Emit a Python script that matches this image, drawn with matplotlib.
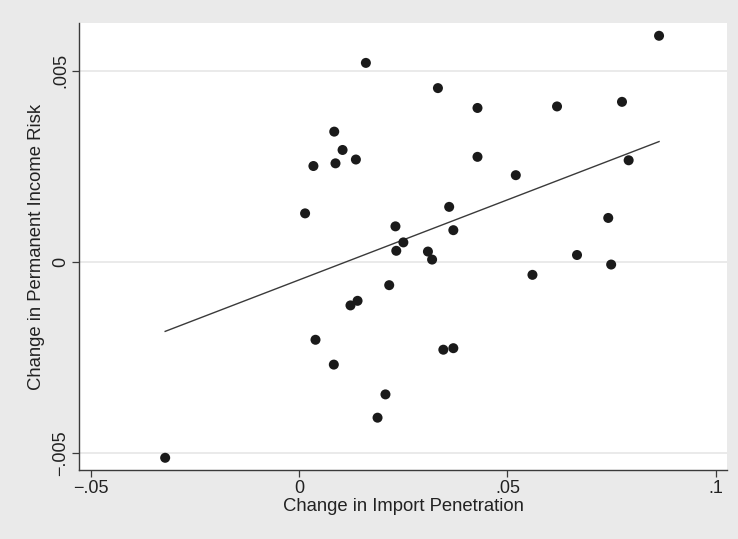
import matplotlib
matplotlib.use("Agg")
import matplotlib.pyplot as plt

# ---- data --------------------------------------------------------------- #
import_change = [0.0864, 0.0160, 0.0333, 0.0428, 0.0619, 0.0775, 0.0084,
                 0.0104, 0.0034, 0.0087, 0.0136, 0.0428, 0.0791, 0.0520,
                 0.0014, 0.0360, 0.0742, 0.0231, 0.0370, 0.0250, 0.0233,
                 0.0309, 0.0319, 0.0667, 0.0749, 0.0560, 0.0216, 0.0140,
                 0.0123, 0.0039, 0.0346, 0.0370, 0.0083, 0.0207, 0.0188,
                 -0.0322]
risk_change = [0.00592, 0.00521, 0.00455, 0.00403, 0.00407, 0.00419,
               0.00341, 0.00293, 0.00251, 0.00258, 0.00268, 0.00275,
               0.00266, 0.00227, 0.00127, 0.00144, 0.00115, 0.00093,
               0.00083, 0.00051, 0.00029, 0.00027, 0.00006, 0.00018,
               -0.00007, -0.00034, -0.00061, -0.00102, -0.00114, -0.00204,
               -0.00230, -0.00226, -0.00269, -0.00347, -0.00408, -0.00513]

fit_x = [-0.0322, 0.0864]
fit_y = [-0.00182, 0.00315]

x_ticks = [-0.05, 0, 0.05, 0.1]
x_labels = ["-.05", "0", ".05", ".1"]
y_ticks = [-0.005, 0, 0.005]
y_labels = ["-.005", "0", ".005"]

BG = "#EAEAEA"
INK = "#1A1A1A"

plt.rcParams.update({
    "font.family": "sans-serif",
    "font.sans-serif": ["Liberation Sans", "DejaVu Sans"],
    "font.size": 13,
})

fig = plt.figure(figsize=(7.38, 5.39), dpi=100, facecolor=BG)
ax = fig.add_axes([0.107, 0.128, 0.878, 0.829])
ax.set_facecolor("white")

for v in y_ticks:
    ax.axhline(v, color="#E6E6E6", lw=1.2, zorder=0)

ax.plot(fit_x, fit_y, color="#3A3A3A", lw=1.0, zorder=2)
ax.scatter(import_change, risk_change, s=52, color=INK, edgecolors="none",
           zorder=3)

ax.set_xlim(-0.0529, 0.1027)
ax.set_ylim(-0.00545, 0.00625)

ax.set_xticks(x_ticks)
ax.set_xticklabels([s.replace("-", "\u2212") for s in x_labels])
ax.set_yticks(y_ticks)
ax.set_yticklabels([s.replace("-", "\u2212") for s in y_labels],
                   rotation=90, va="center")

for side in ("top", "right"):
    ax.spines[side].set_visible(False)
for side in ("left", "bottom"):
    ax.spines[side].set_color("#3A3A3A")
    ax.spines[side].set_linewidth(1.0)
ax.tick_params(axis="both", colors="#3A3A3A", labelcolor="#222222",
               length=5, width=0.9, labelsize=13, pad=2)

ax.set_xlabel("Change in Import Penetration", fontsize=13.3, color="#222222",
              labelpad=1)
ax.set_ylabel("Change in Permanent Income Risk", fontsize=13.3,
              color="#222222", labelpad=5)

fig.savefig("out.png", dpi=100, facecolor=BG)
